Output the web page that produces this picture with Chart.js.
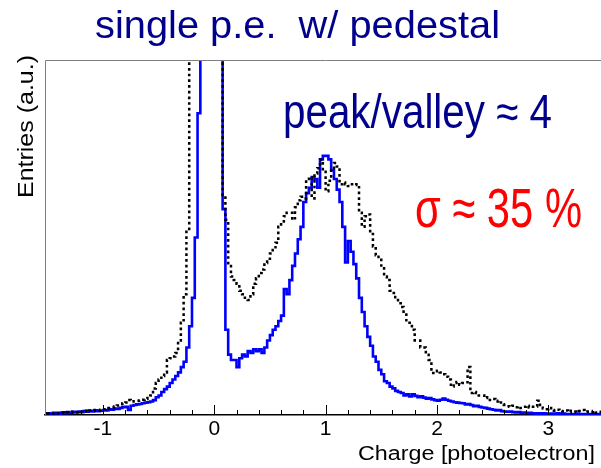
<!DOCTYPE html>
<html>
<head>
<meta charset="utf-8">
<script src="https://cdn.jsdelivr.net/npm/chart.js@4"></script>
<style>
  html, body { margin: 0; padding: 0; overflow: hidden; background: #fff; }
  #wrap { width: 606px; height: 468px; }
</style>
</head>
<body>
<div id="wrap"><canvas id="spe" width="606" height="468"></canvas></div>
<script>
// histogram binning: left edge of first bin and bin width (photoelectrons)
const binStart = -1.5;
const binWidth = 0.025;

// single p.e. spectrum, solid blue (entries, a.u.; 100 = top of frame)
const blueCounts = [
  0.4,0.5,0.3,0.6,0.5,0.4,0.7,0.5,0.8,0.6,0.9,0.7,1.0,0.8,1.1,0.9,1.2,1.0,1.3,1.1,
  1.2,1.4,1.3,1.6,1.5,1.8,1.7,2.0,2.2,2.3,1.4,2.6,2.8,3.0,3.1,3.3,3.5,3.6,3.8,4.2,
  5.0,5.5,6.5,7.3,8.0,9.0,10,11,12,13.5,15,19,25,33,50,85,250,380,440,460,
  450,400,320,160,58,24,17,15.5,15.5,13.5,16,17,16.5,18,17.5,18.5,18,18.5,17.5,19,
  21,22.5,24,25,26.5,28,35.5,34,38,42,45.5,49.5,53,60,62.5,64,67,66.5,64,72,
  73,73,72,69,66.5,63.5,60,53,43,49,46,42.5,38.5,33,29,25,22,19.5,16.5,15,
  12.7,11.5,9.5,9,8,7.5,6.8,6.5,6.2,5.5,5.8,5.2,5.8,5.4,5.0,5.3,4.9,4.6,4.8,4.4,
  4.2,4.0,4.3,4.6,4.3,4.0,3.8,3.6,3.5,3.4,3.3,3.0,3.1,2.8,2.5,2.6,2.3,2.1,2.0,1.8,
  1.6,1.5,1.3,1.4,1.1,1.0,0.9,1.0,0.8,0.7,0.8,0.6,0.7,0.5,0.6,0.5,0.4,0.5,0.4,0.5,
  0.4,0.3,0.4,0.3,0.5,0.3,0.4,0.3,0.3,0.2,0.3,0.4,0.3,0.2,0.3,0.3,0.2,0.3,0.2,0.3
];

// second spectrum, black dotted
const dottedCounts = [
  0.3,0.4,0.5,0.4,0.6,0.5,0.7,0.6,0.8,0.7,0.9,0.8,1.1,0.9,1.2,1.0,1.3,1.2,1.4,1.3,
  1.5,1.6,1.8,2.0,2.2,2.4,2.7,3.0,3.3,3.5,4.2,3.8,3.9,4.0,4.1,4.3,4.5,4.8,5.5,7.5,
  9,10,11,12,15.5,16,16.5,17.5,21,26,34,52,200,350,420,450,460,470,470,470,
  460,420,350,250,62,55,42,39,38,37,35,34,33,32.4,34,37,38.5,40,41,42.8,
  44,45.5,46.5,48.5,53,54.5,56,57,57,55,58.5,60.5,61.5,61,66.5,67,61,68,69.5,72,
  68.5,63,66,69,71,70,65,65.5,65,64.5,65,64.8,65,57,53,56,56.5,51,47.5,45,
  44.5,41.7,39,38,35,34.4,32.4,31.5,30.4,28.7,26,26,24,21,21,19,19,17,15.5,11.8,
  11.8,12.5,12,11.5,10.8,10,8,9,9.3,8.5,9,9.2,13.5,6.2,6.5,6.2,5.5,5.5,4.8,5.0,
  4.2,4.5,3.8,4.0,3.0,2.8,2.5,2.3,2.6,2.2,2.4,2.0,2.3,2.6,2.1,2.3,2.4,4.0,2.8,1.8,
  1.6,2.0,1.4,1.2,1.5,1.1,1.0,1.3,0.9,1.2,1.0,0.8,1.1,1.4,0.9,1.0,0.8,1.1,0.7,0.9
];

const xMin = -1.52, xMax = 3.5;
const xTitle = 'Charge [photoelectron]';
const yTitle = 'Entries (a.u.)';
const title = 'single p.e.  w/ pedestal';
const note1 = 'peak/valley \u2248 4';
const note2 = '\u03c3 \u2248 35 %';

const FONT = '"Liberation Sans", Arial, Helvetica, sans-serif';

// step histogram points: one per bin left edge, plus closing point at last edge
function toSteps(counts) {
  const pts = counts.map((c, i) => ({ x: binStart + i * binWidth, y: c }));
  pts.push({ x: binStart + counts.length * binWidth, y: counts[counts.length - 1] });
  return pts;
}

// draw text squeezed/stretched horizontally to a given width
function fitText(ctx, str, x, y, size, color, width, rot) {
  ctx.save();
  ctx.font = size + 'px ' + FONT;
  ctx.fillStyle = color;
  ctx.textBaseline = 'alphabetic';
  ctx.textAlign = 'left';
  ctx.translate(x, y);
  if (rot) ctx.rotate(rot);
  const w = ctx.measureText(str).width;
  ctx.scale(width / w, 1);
  ctx.fillText(str, 0, 0);
  ctx.restore();
}

const decor = {
  id: 'decor',
  afterDraw(chart) {
    const { ctx, chartArea: a } = chart;
    const xs = chart.scales.x;
    ctx.save();
    // frame (left + top, gray)
    ctx.strokeStyle = '#808080';
    ctx.lineWidth = 1;
    ctx.beginPath();
    ctx.moveTo(a.left + 0.5, a.bottom);
    ctx.lineTo(a.left + 0.5, a.top + 0.5);
    ctx.lineTo(a.right + 2, a.top + 0.5);
    ctx.stroke();
    // inward ticks on the x axis
    ctx.strokeStyle = '#000';
    ctx.lineWidth = 1;
    xs.ticks.forEach(t => {
      const v = t.value;
      if (Math.abs(v * 5 - Math.round(v * 5)) > 1e-6) return;
      const major = Math.abs(v - Math.round(v)) < 1e-6;
      const px = Math.round(xs.getPixelForValue(v)) + 0.5;
      ctx.beginPath();
      ctx.moveTo(px, a.bottom);
      ctx.lineTo(px, a.bottom - (major ? 10 : 5));
      ctx.stroke();
    });
    ctx.restore();

    fitText(ctx, title, 95, 38, 39, '#00008c', 405);
    fitText(ctx, note1, 283, 128, 48, '#00008c', 269);
    fitText(ctx, note2, 415, 227, 55, '#ff0000', 167);
    fitText(ctx, xTitle, 358, 460, 20, '#000', 237);
    fitText(ctx, yTitle, 32.5, 198, 22, '#000', 143, -Math.PI / 2);
  }
};

new Chart(document.getElementById('spe').getContext('2d'), {
  type: 'line',
  data: {
    datasets: [
      {
        label: 'dotted',
        data: toSteps(dottedCounts),
        stepped: 'after',
        borderColor: '#000',
        borderWidth: 2.5,
        borderDash: [2.7, 3],
        pointRadius: 0,
        fill: false
      },
      {
        label: 'single p.e.',
        data: toSteps(blueCounts),
        stepped: 'after',
        borderColor: '#0000ff',
        borderWidth: 2.6,
        pointRadius: 0,
        fill: false
      }
    ]
  },
  options: {
    responsive: false,
    animation: false,
    layout: { padding: { left: 0, top: 60, right: 1, bottom: 0 } },
    plugins: { legend: { display: false }, tooltip: { enabled: false } },
    scales: {
      x: {
        type: 'linear',
        min: xMin,
        max: xMax,
        afterFit: s => { s.height = 53; },
        grid: { display: false, drawTicks: false },
        border: { display: true, color: '#000', width: 1.5 },
        ticks: {
          stepSize: 0.2,
          autoSkip: false,
          maxRotation: 0,
          padding: 2,
          color: '#000',
          font: { family: FONT, size: 21 },
          callback: v => Math.abs(v - Math.round(v)) < 1e-6 ? String(Math.round(v)) : ''
        }
      },
      y: {
        min: 0,
        max: 100,
        afterFit: s => { s.width = 45; },
        grid: { display: false, drawTicks: false },
        border: { display: false },
        ticks: { display: false }
      }
    }
  },
  plugins: [decor]
});
</script>
</body>
</html>
